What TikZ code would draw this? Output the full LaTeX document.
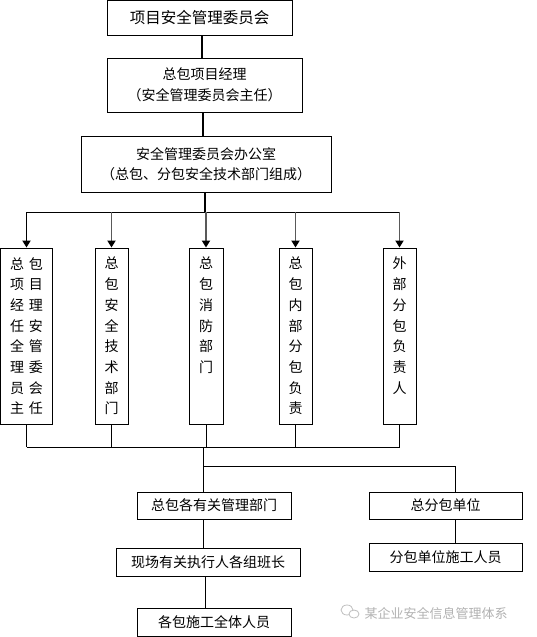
\documentclass[tikz,border=0pt]{standalone}
\usepackage{fontspec}
\setmainfont{Noto Sans CJK SC}
\usetikzlibrary{arrows.meta}
\begin{document}
\begin{tikzpicture}[x=1pt,y=-1pt,
  box/.style={draw,line width=0.9pt,inner sep=0pt,align=center,font=\fontsize{14}{21}\selectfont},
  vbox/.style={draw,line width=0.9pt,inner sep=0pt,minimum height=176pt},
  vtext/.style={inner sep=0pt,align=center,anchor=north,font=\fontsize{14}{20.7}\selectfont},
  thickline/.style={line width=1.7pt},
  thinline/.style={line width=0.8pt},
  arr/.style={line width=1.8pt,draw=black!65,-{Triangle[length=7pt,width=8pt,color=black]}},
  wmark/.style={text=black!30,inner sep=0pt,font=\fontsize{13}{13}\selectfont}
]
\useasboundingbox (0,0) rectangle (536,637);
\fill[white] (0,0) rectangle (536,637);

% top boxes
\node[box,minimum width=185pt,minimum height=35pt,font=\fontsize{15.5}{20}\selectfont] (b1) at (199.5,18) {项目安全管理委员会};
\node[box,minimum width=195pt,minimum height=54pt] (b2) at (204.5,85) {总包项目经理\\（安全管理委员会主任）};
\node[box,minimum width=250pt,minimum height=56pt,font=\fontsize{14}{20}\selectfont] (b3) at (206,164) {安全管理委员会办公室\\（总包、分包安全技术部门组成）};

% vertical boxes
\node[vbox,minimum width=52pt] (vA) at (26.5,336) {};
\node[vbox,minimum width=33pt] (vB) at (111.5,336) {};
\node[vbox,minimum width=34pt] (vC) at (206,336) {};
\node[vbox,minimum width=33pt] (vD) at (295.5,336) {};
\node[vbox,minimum width=33pt] (vE) at (399.5,336) {};

\node[vtext] (tA) at (26.5,257) {总\hspace{5pt}包\\项\hspace{5pt}目\\经\hspace{5pt}理\\任\hspace{5pt}安\\全\hspace{5pt}管\\理\hspace{5pt}委\\员\hspace{5pt}会\\主\hspace{5pt}任};
\node[vtext] (tB) at (111.5,257) {总\\包\\安\\全\\技\\术\\部\\门};
\node[vtext] (tC) at (206,257) {总\\包\\消\\防\\部\\门};
\node[vtext] (tD) at (295.5,257) {总\\包\\内\\部\\分\\包\\负\\责};
\node[vtext] (tE) at (399.5,257) {外\\部\\分\\包\\负\\责\\人};

% lower boxes
\node[box,minimum width=154pt,minimum height=27pt] (F) at (214,505.5) {总包各有关管理部门};
\node[box,minimum width=153pt,minimum height=27pt] (G) at (445.5,505.5) {总分包单位};
\node[box,minimum width=184pt,minimum height=28pt] (H) at (208,562) {现场有关执行人各组班长};
\node[box,minimum width=153pt,minimum height=28pt] (I) at (445.5,557) {分包单位施工人员};
\node[box,minimum width=154pt,minimum height=28pt] (J) at (214,622) {各包施工全体人员};

% upper connectors
\coordinate (x1) at (202,0);
\coordinate (x2) at (203,0);
\coordinate (bus1) at (205,212);
\draw[thickline] (b1.south -| x1) -- (b2.north -| x1);
\draw[thickline] (b2.south -| x2) -- (b3.north -| x2);
\draw[thickline] (b3.south -| bus1) -- (bus1);
\draw[thinline] (vA.north |- bus1) -- (vE.north |- bus1);
\draw[arr,draw=black] (vA.north |- bus1) -- (vA.north);
\foreach \v in {vB,vC,vD,vE} \draw[arr] (\v.north |- bus1) -- (\v.north);

% lower connectors
\coordinate (bus2) at (203,447);
\coordinate (br) at (203,466);
\coordinate (gx) at (455,466);
\coordinate (hx) at (205,0);
\foreach \v in {vA,vB,vC,vD,vE} \draw[thinline] (\v.south) -- (\v.south |- bus2);
\draw[thinline] (vA.south |- bus2) -- (vE.south |- bus2);
\draw[thinline] (bus2) -- (F.north -| bus2);
\draw[thinline] (br) -- (gx) -- (G.north -| gx);
\draw[thinline] (G.south -| gx) -- (I.north -| gx);
\draw[thinline] (F.south -| bus2) -- (H.north -| bus2);
\draw[thinline] (H.south -| hx) -- (J.north -| hx);

% watermark
\draw[black!25,line width=0.8pt] (347,610) ellipse (6pt and 5pt);
\draw[black!25,line width=0.8pt,fill=white] (354,614) ellipse (5pt and 4pt);
\node[wmark] (wm) at (436,613) {某企业安全信息管理体系};
\end{tikzpicture}
\end{document}
